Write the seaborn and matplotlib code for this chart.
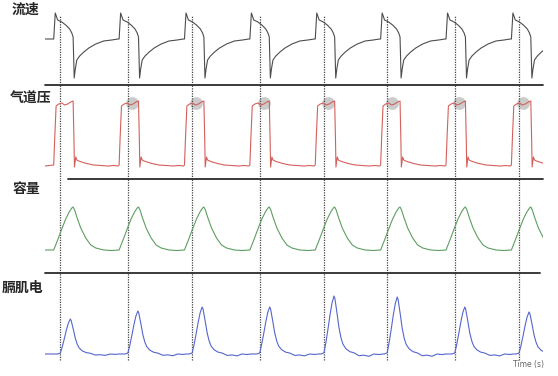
import numpy as np
import pandas as pd
import seaborn as sns
import matplotlib.pyplot as plt

sns.set_style("white")
plt.rcParams['font.family'] = ['Noto Sans CJK SC', 'DejaVu Sans']

# Breath (ventilator) onsets and neural (EMG) onsets, seconds
breath_onsets = [0.4, 3.4, 6.4, 9.4, 12.4, 15.4, 18.4, 21.4]
neural_onsets = [0.7, 3.8, 6.75, 9.85, 12.8, 15.7, 18.8, 21.75]
t_end = 22.85

# One breath of each waveform (time after onset, value)
flow_dt = [0.00, 0.07, 0.18, 0.37, 0.55, 0.73, 0.83, 0.89, 0.94, 0.99, 1.06,
           1.19, 1.38, 1.61, 1.93, 2.29, 2.66, 2.95]
flow_val = [0, 26, 19, 17, 14, 10, 6, 2, -39, -30, -21, -17, -13, -9, -5, -2, -1, 0]

pres_dt = [0.00, 0.05, 0.11, 0.23, 0.37, 0.50, 0.64, 0.78, 0.89, 0.93, 0.95,
           1.01, 1.06, 1.15, 1.28, 1.51, 1.83, 2.16, 2.48, 2.75, 2.95]
pres_val = [1, 30, 60, 62, 63, 61, 62, 64, 65, 25, -1, 9, 6, 5, 4, 2.5, 1,
            0.5, 0, 0.5, 0]

vol_dt = [0.00, 0.18, 0.37, 0.55, 0.71, 0.83, 0.89, 0.96, 1.06, 1.24, 1.47,
          1.70, 1.93, 2.29, 2.66, 2.95]
vol_val = [0, 10, 21, 31, 38, 42, 43, 40, 33, 22, 12, 5, 2, 0, -0.5, 0]

emg_dt = [-0.14, 0.00, 0.09, 0.18, 0.28, 0.37, 0.46, 0.50, 0.60, 0.69, 0.78,
          0.87, 1.01, 1.19, 1.38, 1.61, 1.83, 2.06, 2.29, 2.52, 2.70]
emg_shape = [0.0, 0.02, 0.2, 0.42, 0.68, 0.88, 1.0, 0.96, 0.7, 0.45, 0.28,
             0.17, 0.09, 0.04, 0.02, -0.03, -0.02, -0.04, 0.0, -0.01, 0.0]
emg_peaks = [35, 43, 47, 47, 58, 57, 47, 42]


def stitch(onsets, dt, val, amp=None):
    t, v = [0.0], [0.0]
    for i, t0 in enumerate(onsets):
        a = 1 if amp is None else amp[i]
        t += [t0 + d for d in dt]
        v += [a * x for x in val]
    return pd.DataFrame({"t": t, "v": v})


panels = [
    ("流速", stitch(breath_onsets, flow_dt, flow_val), "#4d4d4d", 0, 85, 39),
    ("气道压", stitch(breath_onsets, pres_dt, pres_val), "#d4605c", 85, 179, 166),
    ("容量", stitch(breath_onsets, vol_dt, vol_val), "#5e9e62", 179, 273, 250),
    ("膈肌电", stitch(neural_onsets, emg_dt, emg_shape, emg_peaks), "#5566cc", 273, 376, 354),
]
label_pos = [(12, 10), (10, 99), (13, 189), (2, 288)]
sep_span = [(0, 1), (0.046, 1), (0, 0.994), None]

W, H = 558, 376
fig = plt.figure(figsize=(W / 100, H / 100), dpi=100)

for i, (name, df, color, top, bottom, base) in enumerate(panels):
    ax = fig.add_axes([45 / W, 1 - bottom / H, 498 / W, (bottom - top) / H])
    sns.lineplot(data=df, x="t", y="v", ax=ax, color=color, lw=0.8,
                 estimator=None, sort=False)
    ax.set_xlim(0, t_end)
    ax.set_ylim(base - bottom, base - top)
    ax.set_axis_off()

    # dotted neural-onset markers
    ymin = (H - 360) / (bottom - top) if i == 3 else 0
    ymax = (85 - 15) / 85 if i == 0 else 1
    for t0 in neural_onsets:
        ax.axvline(t0, ymin=ymin, ymax=ymax, color="#444444", lw=0.9,
                   ls=(0, (1, 1)), zorder=1)

    if sep_span[i] is not None:
        ax.axhline(base - bottom, xmin=sep_span[i][0], xmax=sep_span[i][1],
                   color="#2b2b2b", lw=1.3, clip_on=False)

    if i == 1:
        ax.scatter([t0 + 0.2 for t0 in neural_onsets[1:]], [63] * 7, s=85,
                   color="#b0b0b0", alpha=0.65, lw=0, zorder=0)

    lx, ly = label_pos[i]
    fig.text(lx / W, 1 - ly / H, name, fontsize=10, fontweight="bold",
             ha="left", va="center")

fig.text(513 / W, 1 - 365 / H, "Time (s)", fontsize=5.5, color="#666666",
         ha="left", va="center", family="DejaVu Sans")

fig.savefig("out.png", dpi=100)
